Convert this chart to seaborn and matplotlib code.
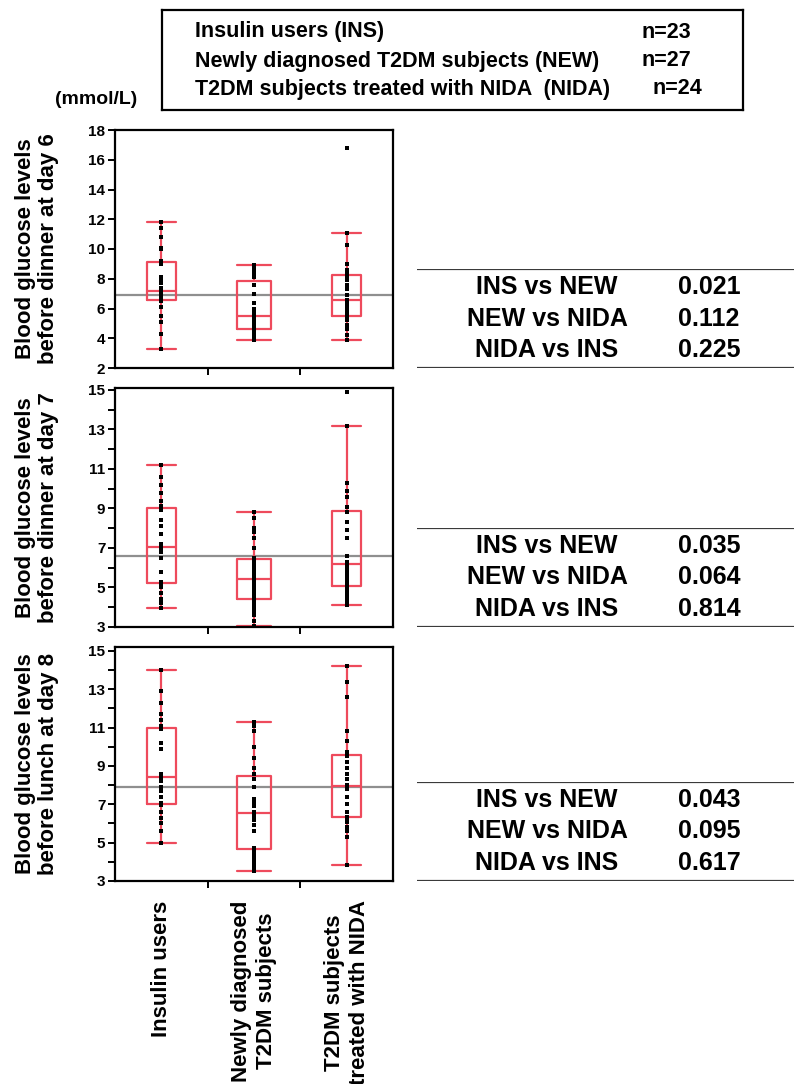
"""
Blood glucose boxplots for three T2DM groups (day 6 / day 7 / day 8)
with the pairwise p-values shown as small tables on the right.
"""

import matplotlib
matplotlib.use("Agg")
import pandas as pd
import matplotlib.pyplot as plt
from matplotlib.ticker import MultipleLocator, FixedLocator
import seaborn as sns

# ─────────────────────────────────────────────
# DATA
# ─────────────────────────────────────────────
GROUPS = ["Insulin users", "Newly diagnosed\nT2DM subjects", "T2DM subjects\ntreated with NIDA"]

LEGEND_NAMES = ["Insulin users (INS)",
                "Newly diagnosed T2DM subjects (NEW)",
                "T2DM subjects treated with NIDA  (NIDA)"]
LEGEND_N = [23, 27, 24]

# day 6, before dinner
day6_ins = [3.3, 4.3, 5.1, 5.5, 6.1, 6.5, 6.7, 6.8, 6.9, 7.0, 7.1, 7.2,
            7.4, 7.7, 7.9, 8.1, 9.0, 9.2, 10.0, 10.1, 10.8, 11.4, 11.8]
day6_new = [3.9, 3.9, 4.0, 4.2, 4.3, 4.5, 4.6, 4.7, 4.9, 5.0, 5.1, 5.2, 5.3, 5.5,
            5.7, 5.8, 6.0, 6.4, 7.0, 7.6, 8.1, 8.2, 8.4, 8.5, 8.6, 8.8, 8.9]
day6_nida = [3.9, 4.2, 4.6, 4.9, 5.2, 5.4, 5.5, 5.7, 5.9, 6.1, 6.3, 6.5,
             6.6, 6.9, 7.3, 7.6, 7.9, 8.2, 8.3, 8.6, 9.0, 10.3, 11.1, 16.8]

# day 7, before dinner
day7_ins = [3.95, 4.2, 4.4, 4.7, 5.0, 5.2, 5.3, 5.8, 6.5, 6.8, 6.9, 7.05,
            7.2, 7.7, 8.1, 8.4, 8.9, 9.15, 9.4, 9.8, 10.2, 10.6, 11.2]
day7_new = [3.05, 3.3, 3.6, 3.8, 4.0, 4.2, 4.35, 4.45, 4.6, 4.8, 5.0, 5.2, 5.3, 5.43,
            5.6, 5.8, 6.0, 6.2, 6.3, 6.4, 6.5, 7.0, 7.5, 7.8, 8.0, 8.5, 8.8]
day7_nida = [4.1, 4.3, 4.5, 4.7, 4.9, 5.05, 5.1, 5.3, 5.5, 5.7, 5.9, 6.1,
             6.3, 6.6, 7.5, 7.9, 8.3, 8.8, 9.1, 9.6, 9.9, 10.3, 13.2, 14.9]

# day 8, before lunch
day8_ins = [5.0, 5.6, 6.0, 6.3, 6.6, 6.95, 7.05, 7.4, 7.7, 7.9, 8.2, 8.4,
            8.5, 8.6, 9.9, 10.2, 10.9, 11.1, 11.4, 11.7, 12.3, 12.9, 14.0]
day8_new = [3.5, 3.6, 3.8, 4.0, 4.2, 4.4, 4.6, 4.7, 5.6, 5.9, 6.2, 6.3, 6.4, 6.54,
            6.6, 6.9, 7.1, 7.3, 7.9, 8.3, 8.6, 8.9, 9.4, 10.0, 10.8, 11.1, 11.3]
day8_nida = [3.83, 5.3, 5.6, 5.8, 6.1, 6.3, 6.35, 6.6, 7.0, 7.4, 7.8, 7.9,
             8.0, 8.3, 8.6, 8.9, 9.2, 9.5, 9.7, 10.3, 10.8, 12.6, 13.4, 14.2]

REF_LINES = [6.9, 6.6, 7.9]          # grey reference line per panel
COMPARISONS = ["INS vs NEW", "NEW vs NIDA", "NIDA vs INS"]
P_DAY6 = ["0.021", "0.112", "0.225"]
P_DAY7 = ["0.035", "0.064", "0.814"]
P_DAY8 = ["0.043", "0.095", "0.617"]

YLABELS = ["Blood glucose levels\nbefore dinner at day 6",
           "Blood glucose levels\nbefore dinner at day 7",
           "Blood glucose levels\nbefore lunch at day 8"]

# ─────────────────────────────────────────────
# STYLE
# ─────────────────────────────────────────────
sns.set_theme(style="ticks")
plt.rcParams["font.family"] = ["Liberation Sans", "DejaVu Sans"]
plt.rcParams["font.weight"] = "bold"
for key in ["text.color", "axes.labelcolor", "xtick.color", "ytick.color"]:
    plt.rcParams[key] = "black"

RED = "#ee4a5c"
BOX_WIDTHS = [0.31, 0.37, 0.32]
W, H = 794, 1084

fig = plt.figure(figsize=(W / 100, H / 100), dpi=100)


def px_axes(left, top, right, bottom):
    """Axes placed with pixel coordinates (origin top-left)."""
    return fig.add_axes([left / W, 1 - bottom / H, (right - left) / W, (bottom - top) / H])


def draw_panel(ax, groups_vals, ref, ylim, odd_ticks):
    df = pd.DataFrame({
        "group": [g for g, vals in zip(GROUPS, groups_vals) for _ in vals],
        "value": [v for vals in groups_vals for v in vals],
    })
    for g, w in zip(GROUPS, BOX_WIDTHS):
        sns.boxplot(data=df[df["group"] == g], x="group", y="value", order=GROUPS,
                    width=w, capwidths=w, fill=False, color=RED, linewidth=1.6,
                    whis=1.5, showfliers=False, ax=ax)
    sns.stripplot(data=df, x="group", y="value", order=GROUPS, jitter=False,
                  color="black", size=2.2, marker="s", linewidth=0, zorder=3, ax=ax)
    ax.axhline(ref, color="#8f8f8f", lw=1.6, zorder=1)

    ax.set_xlim(-0.5, 2.5)
    ax.set_ylim(*ylim)
    if odd_ticks:
        ax.yaxis.set_major_locator(FixedLocator(range(3, 16, 2)))
        ax.yaxis.set_minor_locator(FixedLocator(range(4, 15, 2)))
    else:
        ax.yaxis.set_major_locator(MultipleLocator(2))
    ax.xaxis.set_minor_locator(FixedLocator([0.5, 1.5]))
    ax.tick_params(axis="y", which="both", direction="out", length=5, width=1.4,
                   labelsize=11, pad=2, colors="black")
    ax.tick_params(axis="x", which="minor", direction="out", length=5, width=1.4)
    ax.tick_params(axis="x", which="major", length=0)
    for lab in ax.get_yticklabels():
        lab.set_fontweight("bold")
    for sp in ax.spines.values():
        sp.set_visible(True)
        sp.set_color("black")
        sp.set_linewidth(1.6)
    ax.set_xlabel("")
    ax.set_ylabel("")


def draw_table(ax, pvals):
    ax.set_xlim(0, 1)
    ax.set_ylim(0, 1)
    ax.axis("off")
    ax.axhline(0.995, color="#3a3a3a", lw=1.6)
    ax.axhline(0.005, color="#3a3a3a", lw=1.6)
    for yy, comp, p in zip([0.82, 0.5, 0.18], COMPARISONS, pvals):
        ax.text(0.345, yy, comp, ha="center", va="center", fontsize=18, fontweight="bold")
        ax.text(0.775, yy, p, ha="center", va="center", fontsize=18, fontweight="bold")


# ─────────────────────────────────────────────
# PANELS
# ─────────────────────────────────────────────
panels = [
    ((130, 368), [day6_ins, day6_new, day6_nida], (2, 18), False, P_DAY6),
    ((388, 627), [day7_ins, day7_new, day7_nida], (3, 15.1), True, P_DAY7),
    ((647, 881), [day8_ins, day8_new, day8_nida], (3, 15.2), True, P_DAY8),
]

for i, ((top, bottom), vals, ylim, odd, pvals) in enumerate(panels):
    ax = px_axes(115, top, 393, bottom)
    draw_panel(ax, vals, REF_LINES[i], ylim, odd)
    if i < 2:
        ax.set_xticklabels([])
    else:
        ax.set_xticks(range(3))
        ax.set_xticklabels(GROUPS, rotation=90, fontsize=16, fontweight="bold",
                           multialignment="center", linespacing=1.25)
        ax.tick_params(axis="x", which="major", pad=14)
    fig.text(37 / W, 1 - (top + bottom) / 2 / H, YLABELS[i], rotation=90,
             ha="center", va="center", fontsize=16, fontweight="bold",
             multialignment="center", linespacing=1.15)

    tab = px_axes(417, bottom - 99, W, bottom)
    draw_table(tab, pvals)

# ─────────────────────────────────────────────
# LEGEND BOX + UNIT
# ─────────────────────────────────────────────
leg = px_axes(162, 10, 743, 110)
leg.set_xticks([])
leg.set_yticks([])
leg.set_facecolor("white")
for sp in leg.spines.values():
    sp.set_visible(True)
    sp.set_color("black")
    sp.set_linewidth(1.6)
for yy, name, n, nx in zip([0.78, 0.49, 0.21], LEGEND_NAMES, LEGEND_N, [0.826, 0.826, 0.845]):
    leg.text(0.057, yy, name, ha="left", va="center", fontsize=15.5, fontweight="bold",
             transform=leg.transAxes)
    leg.text(nx, yy, f"n={n}", ha="left", va="center", fontsize=15.5, fontweight="bold",
             transform=leg.transAxes)

fig.text(96 / W, 1 - 100 / H, "(mmol/L)", ha="center", va="center", fontsize=14,
         fontweight="bold")

fig.savefig("out.png", dpi=100, facecolor="white")
